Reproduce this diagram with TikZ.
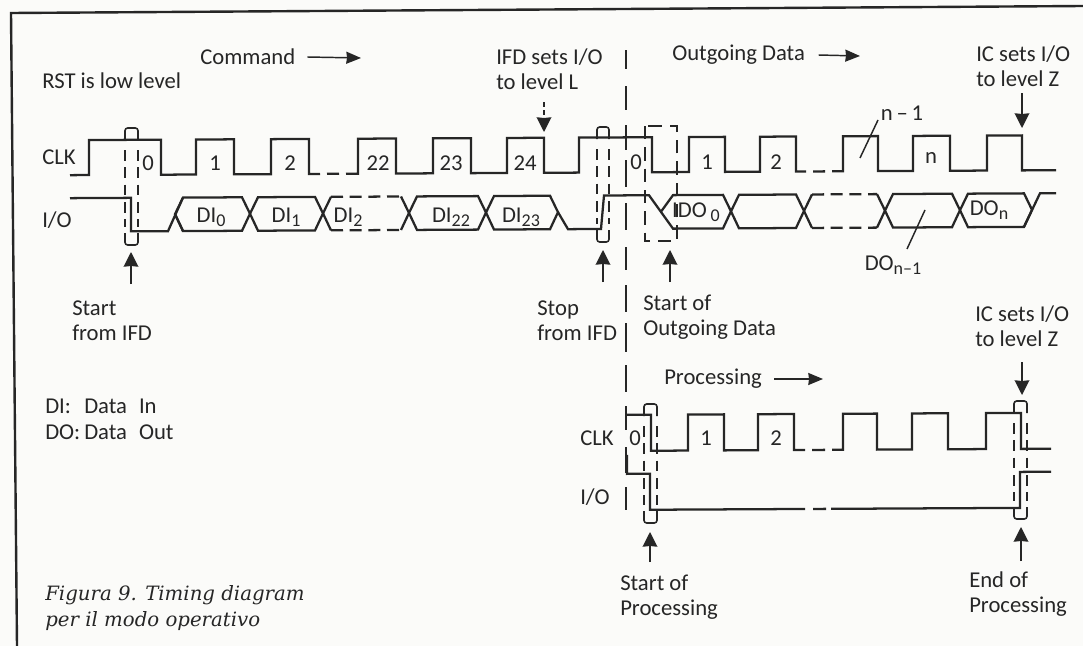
\documentclass[tikz,border=0pt]{standalone}
\usepackage{fontspec}
\usetikzlibrary{arrows.meta}
\newfontfamily\labelfont{Carlito}
\newfontfamily\captfont{DejaVu Serif}
\definecolor{inkc}{HTML}{262626}
\definecolor{paperc}{HTML}{FBFBF9}
\newcommand{\lowidx}[1]{\raisebox{-3pt}{\fontsize{13.5}{14}\selectfont #1}}
\tikzset{
    wave/.style={line width=1.7pt, inkc, line join=miter},
    unknown/.style={wave, dash pattern=on 9pt off 5pt},
    gate/.style={line width=1.2pt, inkc, rounded corners=2pt},
    pointer/.style={line width=1.1pt, inkc, -{Stealth[length=11pt, width=11pt, inset=0.5pt]}},
    flow/.style={line width=1.1pt, inkc, -{Stealth[length=11pt, width=9pt, inset=0.5pt]}},
    lbl/.style={inkc, font=\labelfont\fontsize{17}{18.75}\selectfont, inner sep=0pt, align=left},
    capt/.style={inkc, font=\captfont\itshape\fontsize{14.8}{20}\selectfont, inner sep=0pt, align=left}
}
\begin{document}
\begin{tikzpicture}[x=0.75pt, y=-0.75pt]
    \useasboundingbox (0,0) rectangle (1083,646);
    \fill[paperc] (0,0) rectangle (1083,646);
    % Frame
    \draw[line width=1.8pt, inkc] (1083,6) -- (11,13) -- (17,646);
    % Signals, the scan leans slightly
    \begin{scope}[yslant=0.005]
        % CLK, command part
        \draw[wave] (70,175.5) -- (89,175.5) -- (89,140.5) -- (161,140.5) -- (161,175.5) -- (196,175.5) -- (196,140.5) -- (234,140.5) -- (234,175.5) -- (271,175.5) -- (271,140.5) -- (309,140.5) -- (309,175.5) -- (320,175.5);
        \draw[wave] (327,175.5) -- (339,175.5);
        \draw[wave] (346,175.5) -- (358,175.5) -- (358,140.5) -- (396,140.5) -- (396,175.5) -- (433,175.5) -- (433,140.5) -- (471,140.5) -- (471,175.5) -- (507,175.5) -- (507,140.5) -- (544,140.5) -- (544,175.5) -- (579,175.5) -- (579,140.5) -- (652,140.5) -- (652,175.5) -- (689,175.5) -- (689,140.5) -- (725,140.5) -- (725,175.5) -- (760,175.5) -- (760,140.5) -- (796,140.5) -- (796,175.5) -- (806,175.5);
        \draw[wave] (813,175.5) -- (825,175.5);
        \draw[wave] (832,175.5) -- (843,175.5) -- (843,140.5) -- (878,140.5) -- (878,175.5) -- (913,175.5) -- (913,140.5) -- (950,140.5) -- (950,175.5) -- (987,175.5) -- (987,140.5) -- (1022,140.5) -- (1022,175.5) -- (1056,175.5);
        % I/O, command part
        \draw[wave] (70,198.5) -- (131,198.5) -- (131,232) -- (168,232) -- (183,198.5);
        \draw[wave] (175,215) -- (183,232);
        \foreach \a/\b in {175/250, 250/323, 409/486, 486/558, 731/804, 885/960, 960/1032} {
            \draw[wave] ({\a+8},198.5) -- ({\b-8},198.5) -- (\b,215) -- ({\b-8},232) -- ({\a+8},232) -- (\a,215) -- cycle;
        }
        % Unknown cells
        \foreach \a/\b in {323/409, 804/885} {
            \draw[wave] (\a,215) -- ({\a+8},198.5);
            \draw[wave] (\a,215) -- ({\a+8},232);
            \draw[wave] (\b,215) -- ({\b-8},198.5);
            \draw[wave] (\b,215) -- ({\b-8},232);
            \draw[unknown] ({\a+8},198.5) -- ({\b-8},198.5);
            \draw[unknown] ({\a+8},232) -- ({\b-8},232);
        }
        % I/O, stop bit and outgoing data
        \draw[wave] (558,215) -- (568,232) -- (601,232) -- (604,198.5) -- (649,198.5) -- (673,232) -- (723,232) -- (731,215) -- (723,198.5) -- (673,198.5) -- (661,215);
        \draw[wave] (1024,232) -- (1040,198.5) -- (1056,198.5);
        % CLK and I/O, processing part
        \draw[wave] (627,418) -- (651,418) -- (651,454) -- (688,454) -- (688,418) -- (724,418) -- (724,454) -- (758,454) -- (758,418) -- (794,418) -- (794,454) -- (805,454);
        \draw[wave] (812,454) -- (825,454);
        \draw[wave] (832,454) -- (843,454) -- (843,418) -- (877,418) -- (877,454) -- (912,454) -- (912,418) -- (948,418) -- (948,454) -- (986,454) -- (986,418) -- (1021,418) -- (1021,454) -- (1051,454);
        \draw[wave] (627,458) -- (627,477) -- (650,477) -- (650,513) -- (805,513);
        \draw[wave] (813,513) -- (826,513);
        \draw[wave] (831,513) -- (1020,513) -- (1020,477) -- (1051,477);
    \end{scope}
    % Sampling windows
    \foreach \l/\r/\t/\b in {125/138/128/245, 597/609/127/242, 644/657/404/523, 1014/1027/401/519} {
        \draw[gate] (\l,{\t+12}) -- (\l,\t) -- (\r,\t) -- (\r,{\t+12});
        \draw[gate] (\l,{\b-12}) -- (\l,\b) -- (\r,\b) -- (\r,{\b-12});
        \draw[gate, rounded corners=0pt, dash pattern=on 8pt off 5pt] (\l,{\t+22}) -- (\l,{\b-18}) (\r,{\t+22}) -- (\r,{\b-18});
    }
    \draw[gate, rounded corners=0pt, dash pattern=on 10pt off 6pt] (645,126) rectangle (677,241);
    % Long separator
    \foreach \ya/\yb in {50/69, 86/110, 125/150, 160/187, 203/230, 247/270, 285/312, 323/352, 365/392, 406/430, 447/473, 487/510} {
        \draw[line width=1.2pt, inkc] (626,\ya) -- (626,\yb);
    }
    % Pointers
    \foreach \n/\x/\ya/\yb in {startcmd/131/284/252, stopcmd/603/282/250, startout/670/282/250, setz/1022/93/128, setzb/1022/362/395, startproc/650/562/532, endproc/1021/561/527} {
        \coordinate (\n tail) at (\x,\ya);
        \coordinate (\n tip) at (\x,\yb);
        \draw[pointer] (\n tail) -- (\n tip);
    }
    \coordinate (setl tail) at (544,102);
    \coordinate (setl tip) at (544,132);
    \draw[pointer, dash pattern=on 4pt off 2pt] (setl tail) -- (setl tip);
    % Phase names
    \node[lbl, anchor=west] (command) at (200,57) {Command};
    \node[lbl, anchor=west] (outgoing) at (672,55) {Outgoing Data};
    \node[lbl, anchor=west] (processing) at (664,379) {Processing};
    \coordinate (commandend) at (361,58);
    \coordinate (outgoingend) at (860,56);
    \coordinate (processingend) at (823,379);
    \draw[flow] ([xshift=9pt]command.east) -- (commandend);
    \draw[flow] ([xshift=10pt]outgoing.east) -- (outgoingend);
    \draw[flow] ([xshift=9pt]processing.east) -- (processingend);
    % Left labels
    \node[lbl, anchor=west] (rst) at (42,81) {RST is low level};
    \node[lbl, anchor=west] (clka) at (42,157) {CLK};
    \node[lbl, anchor=west] (ioa) at (42,220) {I/O};
    \node[lbl, anchor=west] (clkb) at (580,438) {CLK};
    \node[lbl, anchor=west] (iob) at (580,497) {I/O};
    % Clock numbers
    \foreach \n/\x/\y/\lab in {ca/148/163/0, cb/215/163/1, cc/290/163/2, cd/378/163/22, ce/451/163/23, cf/525/163/24, oa/636/162/0, ob/707/162/1, oc/776/162/2, od/931/158/n, pa/635/438/0, pb/706/438/1, pc/776/438/2} {
        \node[lbl] (\n) at (\x,\y) {\lab};
    }
    % Data cells
    \foreach \n/\x/\y/\lab in {dia/211/217/{DI\lowidx{0}}, dib/286/217/{DI\lowidx{1}}, dic/348/217/{DI\lowidx{2}}, did/451/217/{DI\lowidx{22}}, die/521/217/{DI\lowidx{23}}, doa/696/212/{IDO\,\lowidx{0}}, dob/989/210/{DO\lowidx{n}}} {
        \node[lbl] (\n) at (\x,\y) {\lab};
    }
    % Leaders
    \node[lbl] (nlast) at (902,113) {n\,–\,1};
    \node[lbl] (dolast) at (893,265) {DO\lowidx{n–1}};
    \coordinate (nleaderlow) at (860,158);
    \coordinate (nleaderhigh) at (878,120);
    \coordinate (doleaderhigh) at (925,210);
    \coordinate (doleaderlow) at (907,249);
    \draw[line width=1.1pt, inkc] (nleaderlow) -- (nleaderhigh);
    \draw[line width=1.1pt, inkc] (doleaderhigh) -- (doleaderlow);
    % Notes
    \node[lbl, anchor=west] (ifdsets) at (496,69) {IFD sets I/O\\to level L};
    \node[lbl, anchor=west] (icsets) at (976,66) {IC sets I/O\\to level Z};
    \node[lbl, anchor=west] (icsetsb) at (975,326) {IC sets I/O\\to level Z};
    \node[lbl, anchor=west] (startifd) at (72,321) {Start\\from IFD};
    \node[lbl, anchor=west] (stopifd) at (537,321) {Stop\\from IFD};
    \node[lbl, anchor=west] (startdata) at (643,317) {Start of\\Outgoing Data};
    \node[lbl, anchor=west] (startpr) at (620,597) {Start of\\Processing};
    \node[lbl, anchor=west] (endpr) at (969,594) {End of\\Processing};
    % Legend and caption
    \node[lbl, anchor=west] (legdi) at (45,406) {DI:};
    \node[lbl, anchor=west] (legdia) at (84,406) {Data\hspace{9pt}In};
    \node[lbl, anchor=west] (legdo) at (45,432) {DO:};
    \node[lbl, anchor=west] (legdoa) at (84,432) {Data\hspace{9pt}Out};
    \node[capt, anchor=west] (caption) at (45,608) {Figura 9. Timing diagram\\per il modo operativo};
\end{tikzpicture}
\end{document}
